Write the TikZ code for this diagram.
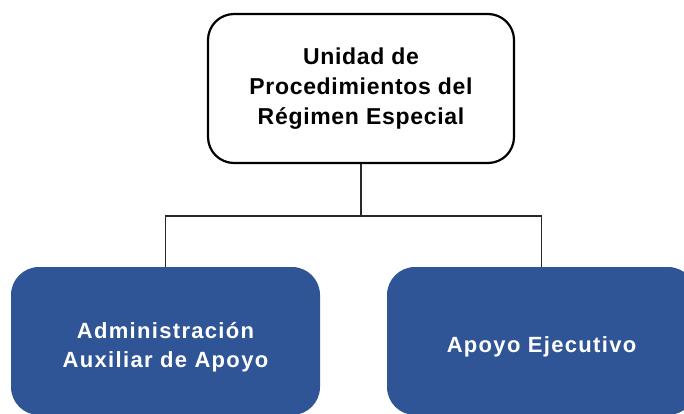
\documentclass[tikz,border=0pt]{standalone}
\usepackage{fontspec}
\setmainfont{Liberation Sans}
\definecolor{boxblue}{RGB}{47,85,151}
\definecolor{linegray}{RGB}{40,40,40}
\begin{document}
\begin{tikzpicture}[x=1pt,y=-1pt,
  topbox/.style={draw=black, line width=2.2pt, rounded corners=26pt, fill=white,
    minimum width=306pt, minimum height=149pt, align=center, inner sep=0pt,
    font=\fontsize{23}{30}\selectfont\bfseries\addfontfeatures{LetterSpace=3}, text=black},
  subbox/.style={draw=none, rounded corners=28pt, fill=boxblue,
    minimum width=309pt, minimum height=148pt, inner sep=0pt},
  subtext/.style={align=center, inner sep=0pt, text=white,
    font=\fontsize{22}{29}\selectfont\bfseries\addfontfeatures{LetterSpace=6}},
  conn/.style={draw=linegray, line width=1.4pt}]
\path[use as bounding box, clip] (0,0) rectangle (684,414);
\fill[white] (0,0) rectangle (684,414);
\node[topbox] (top) at (361,88.5) {Unidad de\\Procedimientos del\\Régimen Especial};
\node[subbox] (left) at (165.5,341) {};
\node[subbox] (right) at (541.5,341) {};
\node[subtext, yshift=-6pt] (lefttext) at (left.center) {Administración\\Auxiliar de Apoyo};
\node[subtext, yshift=-6pt] (righttext) at (right.center) {Apoyo Ejecutivo};
\coordinate (bus) at (361,216);
\draw[conn] (top.south) -- (bus);
\draw[conn] (bus) -| (left.north);
\draw[conn] (bus) -| (right.north);
\end{tikzpicture}
\end{document}
